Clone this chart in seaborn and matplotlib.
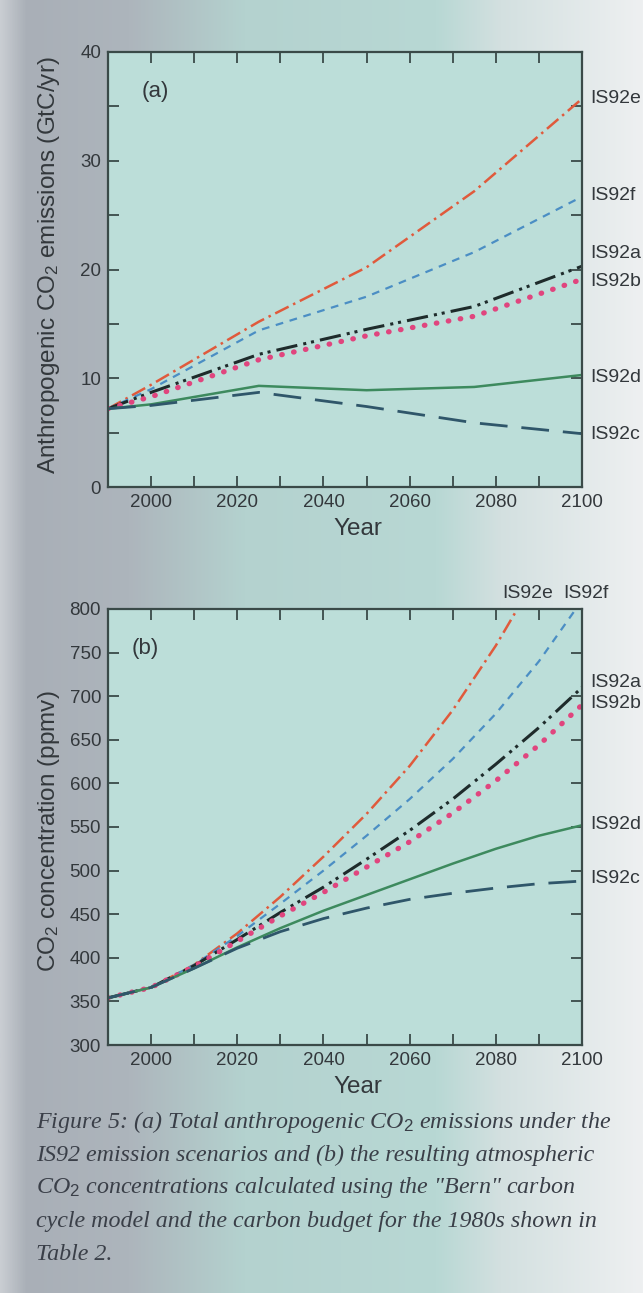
import numpy as np
import pandas as pd
import matplotlib
matplotlib.use("Agg")
import matplotlib.pyplot as plt
import seaborn as sns
from matplotlib.colors import LinearSegmentedColormap
from matplotlib.ticker import MultipleLocator
import matplotlib.transforms as mtransforms

# Emissions (GtC/yr), panel (a)
years_a = [1990, 2000, 2025, 2050, 2075, 2100]
emis_e = [7.2, 9.4, 15.2, 20.2, 27.2, 35.7]
emis_f = [7.2, 9.0, 14.4, 17.5, 21.6, 26.7]
emis_a = [7.2, 8.7, 12.2, 14.5, 16.6, 20.3]
emis_b = [7.2, 8.3, 11.7, 13.9, 15.7, 19.1]
emis_d = [7.2, 7.6, 9.3, 8.9, 9.2, 10.3]
emis_c = [7.2, 7.5, 8.7, 7.4, 5.9, 4.9]

# Concentrations (ppmv), panel (b)
years_b = [1990, 2000, 2010, 2020, 2030, 2040, 2050, 2060, 2070, 2080, 2090, 2100]
conc_e = [354, 366, 392, 428, 470, 516, 565, 620, 684, 758, 842, 925]
conc_f = [354, 366, 392, 425, 462, 500, 540, 582, 628, 680, 740, 810]
conc_a = [354, 366, 391, 421, 452, 481, 513, 546, 582, 622, 664, 710]
conc_b = [354, 366, 390, 419, 448, 475, 504, 533, 566, 603, 644, 690]
conc_d = [354, 366, 388, 412, 434, 454, 472, 490, 508, 525, 540, 552]
conc_c = [354, 366, 388, 411, 430, 445, 457, 467, 474, 480, 485, 488]

scenarios = ["IS92e", "IS92f", "IS92a", "IS92b", "IS92d", "IS92c"]

styles = {
    "IS92e": dict(color="#e05a3c", lw=1.8, ls=(0, (6, 2, 1, 2))),
    "IS92f": dict(color="#4b8ec4", lw=1.6, ls=(0, (3.5, 3))),
    "IS92a": dict(color="#1e2b2b", lw=2.2, ls=(0, (7, 2, 1, 1.6, 1, 2))),
    "IS92b": dict(color="#e0457e", lw=3.8, ls=(0, (0.1, 2.2))),
    "IS92d": dict(color="#3d8a5e", lw=1.8, ls="-"),
    "IS92c": dict(color="#2f566a", lw=2.0, ls=(0, (10, 5))),
}

df_a = pd.DataFrame({"year": years_a, "IS92e": emis_e, "IS92f": emis_f, "IS92a": emis_a,
                     "IS92b": emis_b, "IS92d": emis_d, "IS92c": emis_c})
df_b = pd.DataFrame({"year": years_b, "IS92e": conc_e, "IS92f": conc_f, "IS92a": conc_a,
                     "IS92b": conc_b, "IS92d": conc_d, "IS92c": conc_c})

sns.set_style("ticks")
plt.rcParams["font.family"] = ["Liberation Sans", "DejaVu Sans"]
plt.rcParams["mathtext.fontset"] = "custom"
plt.rcParams["mathtext.rm"] = "Liberation Sans"
plt.rcParams["mathtext.sf"] = "Liberation Sans"
plt.rcParams["mathtext.it"] = "Liberation Serif:italic"

text_col = "#33383c"
fig = plt.figure(figsize=(6.43, 12.93), dpi=100)

# paper-like background
bg = fig.add_axes([0, 0, 1, 1], zorder=-10)
cmap = LinearSegmentedColormap.from_list("paper", [
    (0.0, "#c9cdd2"), (0.04, "#a9afb7"), (0.2, "#adb5bc"), (0.38, "#b4d2cf"),
    (0.68, "#b8d8d4"), (0.78, "#d3e0e0"), (1.0, "#eef0f1")])
bg.imshow(np.linspace(0, 1, 256)[None, :], aspect="auto", cmap=cmap, extent=[0, 1, 0, 1])
bg.axis("off")

ax_a = fig.add_axes([108 / 643, 1 - 487 / 1293, 474 / 643, 435 / 1293])
ax_b = fig.add_axes([108 / 643, 1 - 1045 / 1293, 474 / 643, 436 / 1293])

for ax, df in [(ax_a, df_a), (ax_b, df_b)]:
    ax.set_facecolor("#bcded9")
    for s in scenarios:
        st = styles[s]
        sns.lineplot(data=df, x="year", y=s, ax=ax, color=st["color"], linewidth=st["lw"])
        ln = ax.get_lines()[-1]
        ln.set_linestyle(st["ls"])
        if s == "IS92b":
            ln.set_dash_capstyle("round")
    ax.set_xlim(1990, 2100)
    ax.xaxis.set_major_locator(MultipleLocator(20))
    ax.xaxis.set_minor_locator(MultipleLocator(10))
    ax.tick_params(which="both", direction="in", top=True, right=True,
                   length=8, width=1.3, color="#3a4a48", labelsize=13.5, labelcolor=text_col, pad=5)
    for sp in ax.spines.values():
        sp.set_color("#3a4a48")
        sp.set_linewidth(1.6)
    ax.set_xlabel("Year", fontsize=17.5, color=text_col)
    ax.xaxis.set_label_coords(0.527, -0.072)

# panel (a)
ax_a.set_ylim(0, 40)
ax_a.yaxis.set_major_locator(MultipleLocator(10))
ax_a.yaxis.set_minor_locator(MultipleLocator(5))
ax_a.set_ylabel("Anthropogenic CO$_2$ emissions (GtC/yr)", fontsize=17.5, color=text_col)
ax_a.yaxis.set_label_coords(-0.097, 0.51)
ax_a.text(0.07, 0.91, "(a)", transform=ax_a.transAxes, fontsize=16, color=text_col, va="center")
tr_a = mtransforms.blended_transform_factory(ax_a.transAxes, ax_a.transData)
label_y_a = {"IS92e": 35.7, "IS92f": 26.8, "IS92a": 21.5, "IS92b": 18.9, "IS92d": 10.1, "IS92c": 4.8}
for s, yv in label_y_a.items():
    ax_a.text(1.017, yv, s, transform=tr_a, fontsize=14, color=text_col, va="center", ha="left")

# panel (b)
ax_b.set_ylim(300, 800)
ax_b.yaxis.set_major_locator(MultipleLocator(50))
ax_b.set_ylabel("CO$_2$ concentration (ppmv)", fontsize=17.5, color=text_col)
ax_b.yaxis.set_label_coords(-0.097, 0.49)
ax_b.text(0.05, 0.91, "(b)", transform=ax_b.transAxes, fontsize=16, color=text_col, va="center")
tr_b = mtransforms.blended_transform_factory(ax_b.transAxes, ax_b.transData)
label_y_b = {"IS92a": 716, "IS92b": 692, "IS92d": 553, "IS92c": 491}
for s, yv in label_y_b.items():
    ax_b.text(1.017, yv, s, transform=tr_b, fontsize=14, color=text_col, va="center", ha="left")
tr_top = mtransforms.blended_transform_factory(ax_b.transData, ax_b.transAxes)
ax_b.text(2087.5, 1.035, "IS92e", transform=tr_top, fontsize=14, color=text_col, ha="center", va="center")
ax_b.text(2100.8, 1.035, "IS92f", transform=tr_top, fontsize=14, color=text_col, ha="center", va="center")

# caption
caption = [
    "Figure 5: (a) Total anthropogenic CO$_\\mathit{2}$ emissions under the",
    "IS92 emission scenarios and (b) the resulting atmospheric",
    "CO$_\\mathit{2}$ concentrations calculated using the \"Bern\" carbon",
    "cycle model and the carbon budget for the 1980s shown in",
    "Table 2.",
]
for i, line in enumerate(caption):
    fig.text(36 / 643, 1 - (1122 + 33 * i) / 1293, line, fontsize=17.3, style="italic",
             family="Liberation Serif", color="#3a3f48", va="center", ha="left")

fig.savefig("out.png", dpi=100)
